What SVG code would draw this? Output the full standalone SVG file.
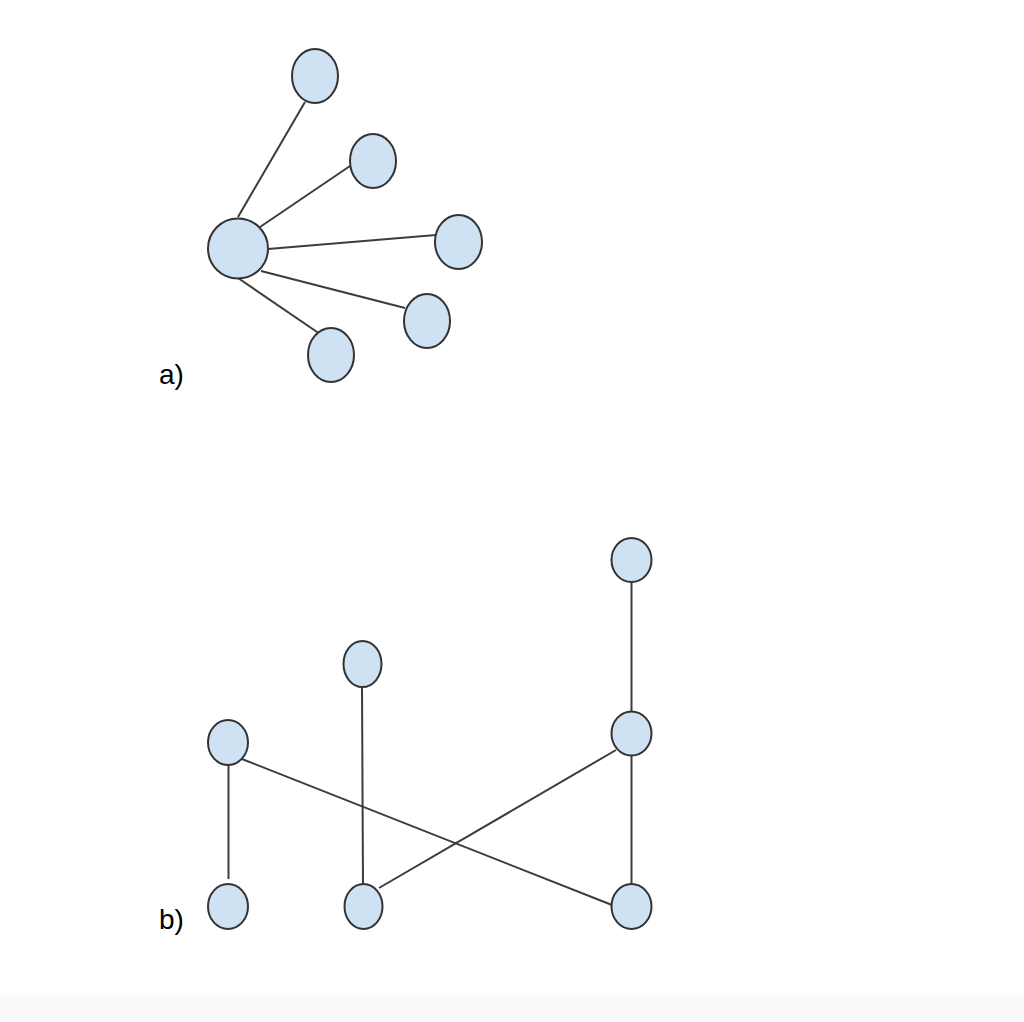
<svg xmlns="http://www.w3.org/2000/svg" width="1024" height="1022" viewBox="0 0 1024 1022">
<style>
.n{fill:#cfe2f3;stroke:#333333;stroke-width:2}
.e{stroke:#3c3c3c;stroke-width:2;fill:none}
.t{font-family:"Liberation Sans",Arial,sans-serif;font-size:28px;fill:#000}
</style>
<rect x="0" y="0" width="1024" height="1022" fill="#ffffff"/>
<rect x="0" y="993" width="1024" height="29" fill="#fafafa"/>
<g id="connectors">
<line class="e" x1="238" y1="217" x2="305" y2="102"/>
<line class="e" x1="260" y1="227" x2="350" y2="166"/>
<line class="e" x1="268" y1="249" x2="436" y2="235"/>
<line class="e" x1="261" y1="271" x2="405" y2="308"/>
<line class="e" x1="238" y1="278" x2="320" y2="334"/>
<line class="e" x1="631.5" y1="582" x2="631.5" y2="711"/>
<line class="e" x1="362" y1="687" x2="363" y2="884"/>
<line class="e" x1="228.5" y1="765" x2="228.5" y2="879"/>
<line class="e" x1="242" y1="759" x2="612" y2="905"/>
<line class="e" x1="616" y1="750" x2="379" y2="888"/>
<line class="e" x1="631.5" y1="756" x2="631.5" y2="884"/>
</g>
<g id="a-hub"><ellipse class="n" cx="238" cy="248.5" rx="30" ry="30"/></g>
<g id="a-n1"><ellipse class="n" cx="315" cy="76" rx="23" ry="27"/></g>
<g id="a-n2"><ellipse class="n" cx="373" cy="161" rx="23" ry="27"/></g>
<g id="a-n3"><ellipse class="n" cx="458.5" cy="242" rx="23.5" ry="27"/></g>
<g id="a-n4"><ellipse class="n" cx="427" cy="321" rx="23" ry="27"/></g>
<g id="a-n5"><ellipse class="n" cx="331" cy="355" rx="23" ry="27"/></g>
<g id="label-a"><text class="t" x="159" y="384">a)</text></g>
<g id="b-tr"><ellipse class="n" cx="631.5" cy="560" rx="20" ry="22"/></g>
<g id="b-mt"><ellipse class="n" cx="362.5" cy="664" rx="19" ry="23"/></g>
<g id="b-l"><ellipse class="n" cx="228" cy="742.5" rx="20" ry="22.5"/></g>
<g id="b-rm"><ellipse class="n" cx="631.5" cy="733.5" rx="20" ry="22"/></g>
<g id="b-bl"><ellipse class="n" cx="228" cy="906.5" rx="20" ry="22.5"/></g>
<g id="b-bm"><ellipse class="n" cx="363.5" cy="906.5" rx="19" ry="22.5"/></g>
<g id="b-br"><ellipse class="n" cx="631.5" cy="906.5" rx="20" ry="22.5"/></g>
<g id="label-b"><text class="t" x="159" y="929">b)</text></g>
</svg>
